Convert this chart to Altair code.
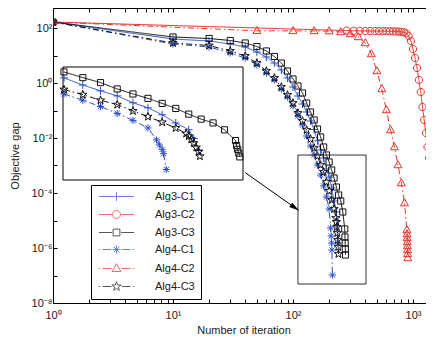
import math
import altair as alt
import pandas as pd

# ---------------- data ----------------
SERIES = ["Alg3-C1", "Alg3-C2", "Alg3-C3", "Alg4-C1", "Alg4-C2", "Alg4-C3"]
BLUE, RED, BLACK = "#2F50C2", "#E8322C", "#111111"
COLORS = [BLUE, RED, BLACK, BLUE, RED, BLACK]

alg3_c1_x = [1, 10, 20, 30, 40, 50, 60, 70, 80, 90, 100, 110, 120, 130, 140, 150,
             160, 170, 180, 190, 200, 210, 220, 230, 234, 238]
alg3_c1_y = [165, 39.8, 33.7, 26.2, 20.4, 13.4, 8.82, 5.33, 2.97, 1.52, 0.716, 0.337,
             0.172, 0.0881, 0.0415, 0.0204, 7.9e-3, 3.66e-3, 1.87e-3, 7.46e-4, 3.82e-4,
             1.52e-4, 5.12e-5, 2.04e-5, 6.31e-6, 1.4e-6]

alg3_c2_x = [1, 280, 320, 360, 400, 440, 480, 520, 560, 600, 640, 680, 720, 760, 800,
             840, 880, 920, 960, 1000, 1040, 1080, 1120, 1160, 1200, 1240, 1280, 1320,
             1360, 1400, 1440, 1480, 1520, 1560]
alg3_c2_y = [165, 80.5, 79, 78.5, 78, 77.8, 77.5, 77.2, 77, 76.5, 76, 75.5, 75, 74, 72,
             70, 64, 51, 33.7, 17.2, 8.11, 3.51, 1.29, 0.471, 0.134, 0.0452, 0.0152,
             4.71e-3, 1.87e-3, 5.8e-4, 2.31e-4, 7.16e-5, 2.41e-5, 6.86e-6]

alg3_c3_x = [1, 10, 20, 30, 40, 50, 60, 70, 80, 90, 100, 110, 120, 130, 140, 150, 160,
             170, 180, 190, 200, 210, 220, 230, 240, 250, 260, 270, 271, 272, 273, 274]
alg3_c3_y = [165, 47.1, 41.5, 35.1, 28.5, 21.2, 14.6, 9.2, 5.33, 2.73, 1.40, 0.778,
             0.433, 0.187, 0.0881, 0.0452, 0.0212, 0.0109, 4.71e-3, 2.41e-3, 1.34e-3,
             6.85e-4, 3.51e-4, 1.65e-4, 8.45e-5, 5.12e-5, 2.04e-5, 4.91e-6, 2.51e-6,
             1.52e-6, 9.2e-7, 5.56e-7]

alg4_c1_x = [1, 10, 20, 30, 40, 50, 60, 70, 80, 90, 100, 110, 120, 130, 140, 150, 160,
             170, 180, 190, 200, 206, 208, 210, 211, 213]
alg4_c1_y = [165, 26.2, 20.4, 12.3, 8.11, 4.52, 2.31, 1.29, 0.605, 0.31, 0.146, 0.063,
             0.0297, 0.0118, 5.12e-3, 2.41e-3, 1.04e-3, 4.52e-4, 1.8e-4, 7.16e-5,
             2.62e-5, 5.34e-6, 2.73e-6, 1.52e-6, 8.46e-7, 1.04e-7]

alg4_c2_x = [1, 50, 100, 150, 200, 250, 300, 350, 400, 450, 500, 550, 600, 650, 700,
             750, 800, 850, 890, 892, 894, 896, 898, 900, 902, 904]
alg4_c2_y = [165, 79, 78.5, 78, 77, 71.6, 60.5, 47.1, 28.5, 11.3, 2.73, 0.605, 0.104,
             0.0195, 4.7e-3, 1.04e-3, 2.3e-4, 4.3e-5, 4.5e-6, 3.2e-6, 2.3e-6, 1.65e-6,
             1.18e-6, 8.5e-7, 6.1e-7, 4.3e-7]

alg4_c3_x = [1, 10, 20, 30, 40, 50, 60, 70, 80, 90, 100, 110, 120, 130, 140, 150, 160,
             170, 180, 190, 200, 210, 220, 228, 230, 232, 234, 236, 238, 239]
alg4_c3_y = [165, 28.5, 23.1, 14.6, 9.59, 5.33, 2.73, 1.52, 0.716, 0.366, 0.187, 0.0811,
             0.0415, 0.0195, 9.2e-3, 4.33e-3, 2.21e-3, 1.04e-3, 5.8e-4, 2.51e-4, 1.18e-4,
             5.56e-5, 2.62e-5, 1.23e-5, 8.8e-6, 5.8e-6, 3.51e-6, 1.95e-6, 1.09e-6, 6.05e-7]

# zoom-rectangle in the main axes, and the inset's axis limits
zoom_x = [110, 406]
zoom_y = [4.9e-8, 2.4e-3]
inset_x = [149.5, 277]
inset_y = [2.57e-8, 0.0871]
arrow_x = [40, 104]
arrow_y = [5.5e-4, 2.9e-5]

X_TICKS = [1, 2, 3, 4, 5, 6, 7, 8, 9, 10, 20, 30, 40, 50, 60, 70, 80, 90,
           100, 200, 300, 400, 500, 600, 700, 800, 900, 1000]
Y_TICKS = [1e-8, 1e-7, 1e-6, 1e-5, 1e-4, 1e-3, 1e-2, 1e-1, 1, 10, 100]

# ---------------- tables ----------------
all_x = [alg3_c1_x, alg3_c2_x, alg3_c3_x, alg4_c1_x, alg4_c2_x, alg4_c3_x]
all_y = [alg3_c1_y, alg3_c2_y, alg3_c3_y, alg4_c1_y, alg4_c2_y, alg4_c3_y]
rows = []
for name, xs, ys in zip(SERIES, all_x, all_y):
    for i, (xv, yv) in enumerate(zip(xs, ys)):
        rows.append({"series": name, "x": xv, "y": yv, "i": i})
df = pd.DataFrame(rows)
names_df = pd.DataFrame({"series": SERIES})

# ---------------- styles ----------------
FONT = "Liberation Sans"
W, H = 381, 295
PX_PER_DEC_X, PX_PER_DEC_Y = 120.0, 27.5


def star_path(ro, ri):
    pts = []
    for k in range(10):
        r = ro if k % 2 == 0 else ri
        a = math.radians(-90 + 36 * k)
        pts.append(f"{r * math.cos(a):.3f},{r * math.sin(a):.3f}")
    return "M" + "L".join(pts) + "Z"


CIRCLE = "M1,0A1,1,0,1,1,-1,0A1,1,0,1,1,1,0Z"
SQUARE = "M-0.85,-0.85L0.85,-0.85L0.85,0.85L-0.85,0.85Z"
PLUS = "M-1.1,0L1.1,0M0,-1.1L0,1.1"
ASTER = "M-1,0L1,0M0,-1L0,1M-0.72,-0.72L0.72,0.72M-0.72,0.72L0.72,-0.72"
TRI = "M0,-1.2L1.1,0.75L-1.1,0.75Z"
STAR = star_path(1.2, 0.48)
MARKERS = [PLUS, CIRCLE, SQUARE, ASTER, TRI, STAR]

SOLID_SEG = "M-4.4,0L-1.15,0M1.15,0L4.4,0"
DASHDOT_SEG = "M-4.4,0L-4.1,0M-3.5,0L-1.3,0M1.3,0L3.5,0M4.1,0L4.4,0"
LEGEND_PATHS = ["M-4.4,0L4.4,0" + PLUS, SOLID_SEG + CIRCLE, SOLID_SEG + SQUARE,
                DASHDOT_SEG + ASTER, DASHDOT_SEG + TRI, DASHDOT_SEG + STAR]
DASHES = [[1, 0], [1, 0], [1, 0], [6, 3, 1.5, 3], [6, 3, 1.5, 3], [6, 3, 1.5, 3]]

color_scale = alt.Scale(domain=SERIES, range=COLORS)
shape_scale = alt.Scale(domain=SERIES, range=MARKERS)
dash_scale = alt.Scale(domain=SERIES, range=DASHES)

x_main = alt.Scale(type="log", domain=[1, 10 ** (W / PX_PER_DEC_X)], nice=False)
y_main = alt.Scale(type="log", domain=[1e-8, 10 ** (2 + 20 / PX_PER_DEC_Y)], nice=False)
# inset placed inside the plot area (pixel ranges)
x_ins = alt.Scale(type="log", domain=inset_x, range=[10, 190], nice=False)
y_ins = alt.Scale(type="log", domain=inset_y, range=[172, 59], nice=False)

XLAB = ("abs(log(datum.value)/LN10 - round(log(datum.value)/LN10)) < 0.001 ? "
        "'10' + ['\u2070','\u00b9','\u00b2','\u00b3'][round(log(datum.value)/LN10)] : ''")
YLAB = ("(round(log(datum.value)/LN10) % 2 == 0) ? '10' + (datum.value < 1 ? '\u207b' : '') + "
        "['\u2070','\u00b9','\u00b2','\u00b3','\u2074','\u2075','\u2076','\u2077','\u2078','\u2079']"
        "[abs(round(log(datum.value)/LN10))] : ''")

common_axis = dict(grid=False, labelFont=FONT, labelFontSize=11, labelColor="#1a1a1a",
                   titleFont=FONT, titleFontSize=11, titleFontWeight="normal",
                   titleColor="#1a1a1a", domainColor="black", tickColor="black",
                   labelFlush=False, labelOverlap=False, tickSize={"expr": "-4"})

x_axis = alt.Axis(orient="bottom", values=X_TICKS, labelExpr=XLAB,
                  title="Number of iteration", labelPadding=10, titlePadding=4,
                  **common_axis)
y_axis = alt.Axis(orient="left", values=Y_TICKS, labelExpr=YLAB,
                  title="Objective gap", labelPadding=5, titlePadding=11,
                  **common_axis)
x_top = alt.Axis(orient="top", values=X_TICKS, labels=False, title=None, **common_axis)

# ---------------- layers ----------------
main_lines = alt.Chart(df).mark_line(strokeWidth=1, clip=True).encode(
    x=alt.X("x:Q", scale=x_main, axis=x_axis),
    y=alt.Y("y:Q", scale=y_main, axis=y_axis),
    color=alt.Color("series:N", scale=color_scale, legend=None),
    strokeDash=alt.StrokeDash("series:N", scale=dash_scale, legend=None),
    order=alt.Order("i:Q"),
)

main_points = alt.Chart(df).mark_point(filled=False, strokeWidth=1, size=52, clip=True,
                                       opacity=1).encode(
    x=alt.X("x:Q", scale=x_main, axis=None),
    y=alt.Y("y:Q", scale=y_main, axis=None),
    color=alt.Color("series:N", scale=color_scale, legend=None),
    shape=alt.Shape("series:N", scale=shape_scale, legend=None),
)

zoom_rect = alt.Chart(pd.DataFrame({"x0": [zoom_x[0]], "x1": [zoom_x[1]],
                                    "y0": [zoom_y[0]], "y1": [zoom_y[1]]})).mark_rect(
    fillOpacity=0, stroke="#333333", strokeWidth=1).encode(
    x=alt.X("x0:Q", scale=x_main, axis=None), x2="x1:Q",
    y=alt.Y("y0:Q", scale=y_main, axis=None), y2="y1:Q",
)

arrow_line = alt.Chart(pd.DataFrame({"x0": [arrow_x[0]], "x1": [arrow_x[1]],
                                     "y0": [arrow_y[0]], "y1": [arrow_y[1]]})).mark_rule(
    color="black", strokeWidth=1).encode(
    x=alt.X("x0:Q", scale=x_main, axis=None), x2="x1:Q",
    y=alt.Y("y0:Q", scale=y_main, axis=None), y2="y1:Q",
)
arrow_head = alt.Chart(pd.DataFrame({"x": [arrow_x[1]], "y": [arrow_y[1]]})).mark_point(
    shape="M1,0L-1,-0.5L-1,0.5Z", filled=True, color="black", size=110, angle=35,
    opacity=1).encode(
    x=alt.X("x:Q", scale=x_main, axis=None),
    y=alt.Y("y:Q", scale=y_main, axis=None),
)

inset_box = alt.Chart(pd.DataFrame({"x0": [inset_x[0]], "x1": [inset_x[1]],
                                    "y0": [inset_y[0]], "y1": [inset_y[1]]})).mark_rect(
    fill="white", stroke="black", strokeWidth=1).encode(
    x=alt.X("x0:Q", scale=x_ins, axis=None), x2="x1:Q",
    y=alt.Y("y0:Q", scale=y_ins, axis=None), y2="y1:Q",
)

inset_filter = (f"datum.x >= {inset_x[0]} && datum.x <= {inset_x[1]} && "
                f"datum.y >= {inset_y[0]} && datum.y <= {inset_y[1]}")

inset_lines = alt.Chart(df).transform_filter(inset_filter).mark_line(strokeWidth=1).encode(
    x=alt.X("x:Q", scale=x_ins, axis=None),
    y=alt.Y("y:Q", scale=y_ins, axis=None),
    color=alt.Color("series:N", scale=color_scale, legend=None),
    strokeDash=alt.StrokeDash("series:N", scale=dash_scale, legend=None),
    order=alt.Order("i:Q"),
)
inset_points = alt.Chart(df).transform_filter(inset_filter).mark_point(
    filled=False, strokeWidth=1, size=52, opacity=1).encode(
    x=alt.X("x:Q", scale=x_ins, axis=None),
    y=alt.Y("y:Q", scale=y_ins, axis=None),
    color=alt.Color("series:N", scale=color_scale, legend=None),
    shape=alt.Shape("series:N", scale=shape_scale, legend=None),
)

legend = alt.Legend(title=None, orient="none", legendX=38, legendY=177,
                    direction="vertical", padding=6, rowPadding=5, columnPadding=0,
                    strokeColor="black", fillColor="white", symbolSize=64,
                    symbolOffset=14, labelOffset=33, labelFont=FONT, labelFontSize=11,
                    labelColor="#1a1a1a", symbolStrokeWidth=1)
legend_layer = alt.Chart(names_df).transform_filter("false").mark_point(
    filled=False, strokeWidth=1).encode(
    x=alt.value(0), y=alt.value(0),
    color=alt.Color("series:N", scale=color_scale, legend=legend),
    shape=alt.Shape("series:N", scale=alt.Scale(domain=SERIES, range=LEGEND_PATHS),
                    legend=legend),
)

top_ticks = alt.Chart(names_df).transform_filter("false").mark_point().encode(
    x=alt.X("x:Q", scale=x_main, axis=x_top),
    y=alt.Y("y:Q", scale=y_main, axis=None),
)

chart = alt.layer(
    main_lines, main_points, zoom_rect, arrow_line, arrow_head,
    inset_box, inset_lines, inset_points, legend_layer, top_ticks,
).resolve_scale(
    x="independent", y="independent", color="independent",
    shape="independent", strokeDash="independent",
).properties(
    width=W, height=H,
    autosize=alt.AutoSizeParams(type="none"),
    padding={"left": 45, "top": 0, "right": -8, "bottom": 32},
).configure_view(stroke=None).configure(font=FONT)

chart.save("out.html", embed_options={"renderer": "svg", "actions": False})
